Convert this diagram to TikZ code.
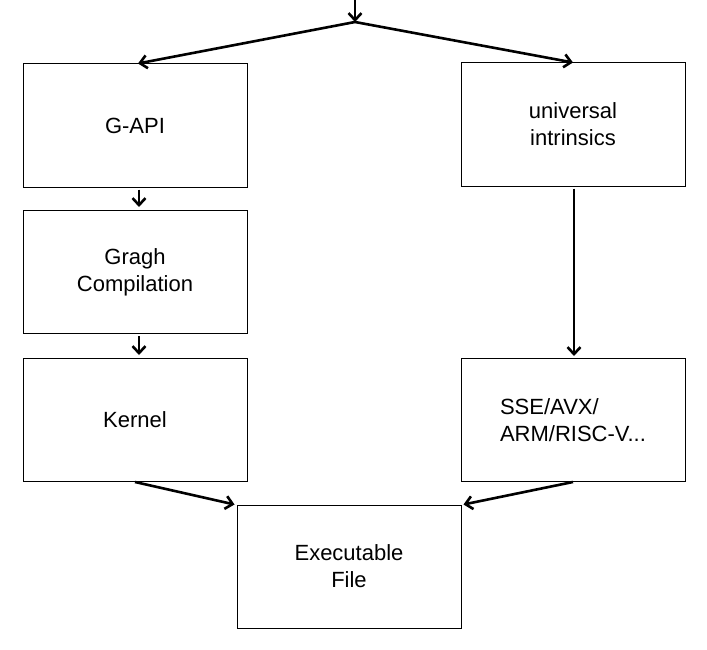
\documentclass[tikz,border=0pt]{standalone}
\usepackage{fontspec}
\setmainfont{Liberation Sans}
\usetikzlibrary{arrows.meta,positioning,calc}

\begin{document}
\begin{tikzpicture}[x=1pt, y=-1pt,
    block/.style={rectangle, minimum width=224pt, minimum height=123pt, align=center, draw=black, line width=1pt, inner sep=0pt, font=\fontsize{22}{27}\selectfont},
    flow/.style={-{Straight Barb[length=7pt,width=13pt]}, line width=2.6pt}
]
\useasboundingbox (0,0) rectangle (707,650);

% Blocks
\node[block] (gapi) at (135,125.5) {G-API};
\node[block] (graph) at (135,272) {Gragh\\Compilation};
\node[block] (kernel) at (135,420) {Kernel};
\node[block] (intr) at (573,124.5) {universal\\intrinsics};
\node[block, align=left] (simd) at (573,420) {SSE/AVX/\\ARM/RISC-V...};
\node[block] (exec) at (349,566.5) {Executable\\File};

% Entry
\coordinate (entry) at (355,0);
\coordinate (split) at (355,22);
\draw[flow] (entry) -- (split);
\draw[flow] (split) -- ($(gapi.north)+(3,0)$);
\draw[flow] (split) -- (intr.north);

% Flow
\draw[flow, shorten <=2pt, shorten >=3pt] ($(gapi.south)+(4,0)$) -- ($(graph.north)+(4,0)$);
\draw[flow, shorten <=2pt, shorten >=3pt] ($(graph.south)+(4,0)$) -- ($(kernel.north)+(4,0)$);
\draw[flow, shorten <=2pt, shorten >=2pt] ($(intr.south)+(1,0)$) -- ($(simd.north)+(1,0)$);
\draw[flow] (kernel.south) -- ($(exec.north west)+(-2,0)$);
\draw[flow] (simd.south) -- ($(exec.north east)+(2,0)$);

\end{tikzpicture}
\end{document}
